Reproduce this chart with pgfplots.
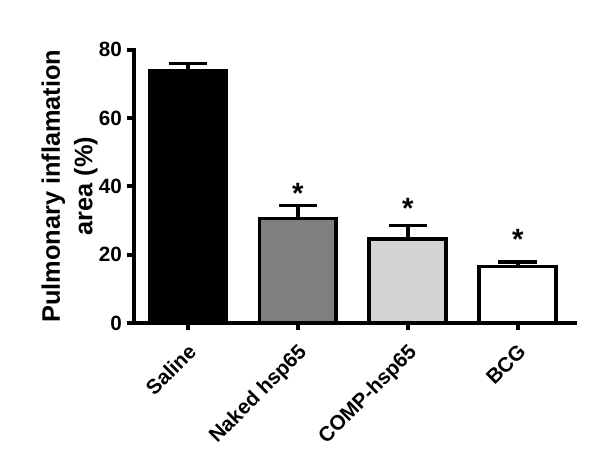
\documentclass[border=0pt]{standalone}
\usepackage{fontspec}
\setmainfont{Liberation Sans}
\usepackage{pgfplots}
\pgfplotsset{compat=1.18}

\definecolor{barmid}{HTML}{808080}
\definecolor{barlight}{HTML}{D3D3D3}

\begin{document}
\begin{tikzpicture}
\path[use as bounding box] (-100.5pt,-110.25pt) rectangle (349.5pt,242.25pt);
\begin{axis}[
  scale only axis,
  width=330.75pt, height=205.1pt,
  xmin=-0.49, xmax=3.52,
  ymin=0, ymax=80,
  axis lines*=left,
  axis line style={line width=3pt, line cap=rect},
  ybar, bar width=0.7, bar shift=0pt,
  xtick={0,1,2,3},
  xticklabels={Saline, Naked hsp65, COMP-hsp65, BCG},
  ytick={0,20,40,60,80},
  tick align=outside,
  major tick length=5.5pt,
  tick style={line width=3pt, black},
  /pgf/number format/assume math mode=true,
  yticklabel style={font=\fontsize{15.5}{18}\selectfont\bfseries},
  xticklabel style={font=\fontsize{15.5}{18}\selectfont\bfseries,
    rotate=45, anchor=north east, inner sep=1pt, xshift=-6pt, yshift=-5pt},
  ylabel={Pulmonary inflamation\\area (\%)},
  every axis y label/.style={at={(axis description cs:0,0.5)},
    xshift=-27pt, rotate=90, anchor=south, align=center, inner sep=0pt,
    font=\fontsize{19}{24.5}\selectfont\bfseries},
  error bars/y dir=plus,
  error bars/y explicit,
  error bars/error bar style={line width=2.6pt, black},
  error bars/error mark options={rotate=90, mark size=14.5pt, line width=2.6pt, black},
]
\addplot[fill=black, draw=black, line width=2.8pt] coordinates {(0,73.8) +- (0,2.1)};
\addplot[fill=barmid, draw=black, line width=2.8pt] coordinates {(1,30.6) +- (0,3.7)};
\addplot[fill=barlight, draw=black, line width=2.8pt] coordinates {(2,24.6) +- (0,4.0)};
\addplot[fill=white, draw=black, line width=2.8pt] coordinates {(3,16.5) +- (0,1.4)};
% significance stars
\addplot[draw=none, mark=none, forget plot,
  nodes near coords={*},
  nodes near coords style={font=\fontsize{22}{24}\selectfont\bfseries, anchor=center, yshift=-5pt}]
  coordinates {(1,40.0) (2,35.5) (3,26.4)};
\end{axis}
\end{tikzpicture}
\end{document}
